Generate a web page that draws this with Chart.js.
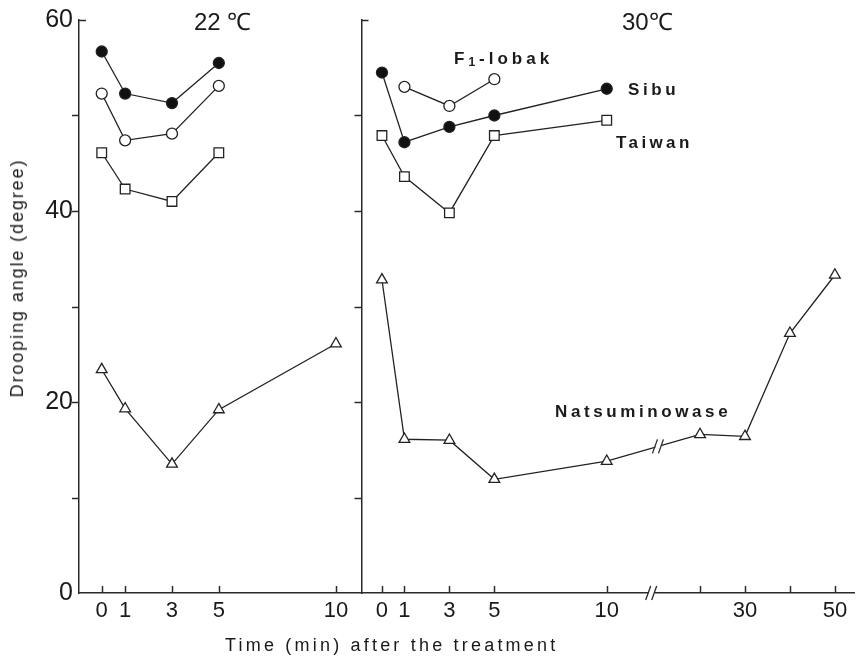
<!DOCTYPE html>
<html>
<head>
<meta charset="utf-8">
<script src="https://cdn.jsdelivr.net/npm/chart.js@4/dist/chart.umd.min.js"></script>
<style>
  html, body { margin:0; padding:0; background:#fff; }
  #wrap { position:relative; width:863px; height:657px; background:#fff; overflow:hidden;
          font-family:"Liberation Sans", Arial, sans-serif; color:#1a1a1a; }
  canvas { position:absolute; left:0; top:0; }
  .t { position:absolute; white-space:nowrap; line-height:1; }
  .lab { font-weight:bold; font-size:17px; letter-spacing:3.4px; }
</style>
</head>
<body>
<div id="wrap">
  <canvas id="c1" width="863" height="657"></canvas>
  <canvas id="c2" width="863" height="657"></canvas>
  <div class="t" style="left:194px;top:10px;font-size:24px;">22 ℃</div>
  <div class="t" style="left:622px;top:10px;font-size:24px;">30℃</div>
  <div class="t lab" style="left:454px;top:50px;letter-spacing:4px;">F<sub style="font-size:12px;vertical-align:-2px;">1</sub>-lobak</div>
  <div class="t lab" style="left:628px;top:81px;letter-spacing:3.6px;">Sibu</div>
  <div class="t lab" style="left:616px;top:134px;letter-spacing:3.4px;">Taiwan</div>
  <div class="t lab" style="left:555px;top:403px;letter-spacing:3.6px;">Natsuminowase</div>
  <div class="t" style="left:225px;top:636px;font-size:18px;letter-spacing:3.2px;">Time (min) after the treatment</div>
  <div class="t" style="left:17px;top:278px;font-size:18px;letter-spacing:1.9px;transform:translate(-50%,-50%) rotate(-90deg);">Drooping angle (degree)</div>
</div>
<script>
// ---------- data ----------
const timesLeft = [0, 1, 3, 5, 10];
const labelsLeft = ['0', '1', '3', '5', '10'];
const sibu22   = [56.7, 52.3, 51.3, 55.5];
const lobak22  = [52.3, 47.4, 48.1, 53.1];
const taiwan22 = [46.1, 42.3, 41.0, 46.1];
const natsu22  = [23.4, 19.3, 13.5, 19.2, 26.1];

const timesRight  = [0, 1, 3, 5, 10, 20, 30, 40, 50];
const labelsRight = ['0', '1', '3', '5', '10', '', '30', '', '50'];
const sibu30Times   = [0, 1, 3, 5, 10];
const sibu30        = [54.5, 47.2, 48.8, 50.0, 52.8];
const lobak30Times  = [1, 3, 5];
const lobak30       = [53.0, 51.0, 53.8];
const taiwan30Times = [0, 1, 3, 5, 10];
const taiwan30      = [47.9, 43.6, 39.8, 47.9, 49.5];
const natsu30Times  = [0, 1, 3, 5, 10, 20, 30, 40, 50];
const natsu30       = [32.8, 16.1, 16.0, 11.9, 13.8, 16.6, 16.4, 27.2, 33.3];

const yTicks = [0, 10, 20, 30, 40, 50, 60];

// ---------- broken time axis (right panel) ----------
const BREAK_AT = 10, RESUME_AT = 20, GAP = 4.15, COMPRESS = 0.2;
function mapT(t) { return t <= BREAK_AT ? t : BREAK_AT + GAP + (t - RESUME_AT) * COMPRESS; }

const INK = '#222';
function pts(times, vals, f) { return vals.map((v, i) => ({ x: f ? f(times[i]) : times[i], y: v })); }
function ds(data, style) {
  const base = { data, borderColor: INK, borderWidth: 1.3, tension: 0,
    pointBorderColor: INK, pointBorderWidth: 1.3, pointHoverRadius: 0, fill: false };
  if (style === 'filled') return Object.assign(base, { pointStyle: 'circle', pointRadius: 5.5, pointBackgroundColor: '#111' });
  if (style === 'open')   return Object.assign(base, { pointStyle: 'circle', pointRadius: 5.5, pointBackgroundColor: '#fff' });
  if (style === 'square') return Object.assign(base, { pointStyle: 'rect', pointRadius: 6.8, pointBackgroundColor: '#fff' });
  return Object.assign(base, { pointStyle: 'triangle', pointRadius: 6.2, pointBackgroundColor: '#fff' });
}

const tickPlugin = {
  id: 'customTicks',
  afterDraw(chart, args, opts) {
    const ctx = chart.ctx, xs = chart.scales.x, ys = chart.scales.y, ca = chart.chartArea;
    ctx.save();
    ctx.strokeStyle = '#2a2a2a'; ctx.lineWidth = 1.5; ctx.lineCap = 'butt';
    yTicks.forEach(v => {
      if (v === 0) return;
      const py = Math.round(ys.getPixelForValue(v)) + 0.5;
      ctx.beginPath();
      if (v === 60) { ctx.moveTo(ca.left, py); ctx.lineTo(ca.left + 7, py); }
      else { ctx.moveTo(ca.left - 7, py); ctx.lineTo(ca.left, py); }
      ctx.stroke();
    });
    xs.ticks.forEach(t => {
      const px = Math.round(xs.getPixelForValue(t.value)) + 0.5;
      ctx.beginPath(); ctx.moveTo(px, ca.bottom); ctx.lineTo(px, ca.bottom - 7); ctx.stroke();
    });
    if (opts && opts.breakAt !== undefined) {
      const drawBreak = (px, py) => {
        ctx.fillStyle = '#fff';
        ctx.fillRect(px - 3, py - 2.5, 6, 5);
        ctx.strokeStyle = '#2a2a2a'; ctx.lineWidth = 1.3;
        ctx.beginPath();
        ctx.moveTo(px - 6, py + 7); ctx.lineTo(px - 1, py - 7);
        ctx.moveTo(px + 0, py + 7); ctx.lineTo(px + 5, py - 7);
        ctx.stroke();
      };
      drawBreak(xs.getPixelForValue(opts.breakAt), ca.bottom);
      const meta = chart.getDatasetMeta(opts.lineIndex);
      const i0 = natsu30Times.indexOf(BREAK_AT), i1 = natsu30Times.indexOf(RESUME_AT);
      const p0 = meta.data[i0], p1 = meta.data[i1];
      const bx = xs.getPixelForValue(opts.lineBreakAt);
      const f = (bx - p0.x) / (p1.x - p0.x);
      drawBreak(bx, p0.y + f * (p1.y - p0.y));
    }
    ctx.restore();
  }
};

const yScale = (showLabels) => ({
  type: 'linear', min: 0, max: 60,
  afterBuildTicks: s => { s.ticks = yTicks.map(v => ({ value: v })); },
  afterFit: s => { s.width = showLabels ? 79 : 361.5; },
  grid: { display: false },
  border: { display: true, color: '#2a2a2a', width: 1.5 },
  ticks: { display: showLabels, padding: -2, color: '#1a1a1a',
    font: { family: '"Liberation Sans", Arial, sans-serif', size: 25 },
    callback: v => (v % 20 === 0 ? String(v) : '') }
});

const xFont = { family: '"Liberation Sans", Arial, sans-serif', size: 22 };

new Chart(document.getElementById('c1'), {
  type: 'line',
  data: { datasets: [
    ds(pts(timesLeft, sibu22), 'filled'),
    ds(pts(timesLeft, lobak22), 'open'),
    ds(pts(timesLeft, taiwan22), 'square'),
    ds(pts(timesLeft, natsu22), 'triangle')
  ] },
  options: {
    responsive: false, animation: false, devicePixelRatio: 1,
    layout: { padding: { left: 0, top: 20, right: 863 - 361, bottom: 0 } },
    plugins: { legend: { display: false }, tooltip: { enabled: false }, customTicks: {} },
    scales: {
      x: { type: 'linear', min: -0.97, max: 11.07,
        afterBuildTicks: s => { s.ticks = timesLeft.map(v => ({ value: v })); },
        afterFit: s => { s.height = 64; },
        grid: { display: false },
        border: { display: true, color: '#2a2a2a', width: 1.5 },
        ticks: { autoSkip: false, maxRotation: 0, padding: -3, color: '#1a1a1a', font: xFont,
          callback: (v, i) => labelsLeft[i] } },
      y: yScale(true)
    }
  },
  plugins: [tickPlugin]
});

new Chart(document.getElementById('c2'), {
  type: 'line',
  data: { datasets: [
    ds(pts(sibu30Times, sibu30, mapT), 'filled'),
    ds(pts(lobak30Times, lobak30, mapT), 'open'),
    ds(pts(taiwan30Times, taiwan30, mapT), 'square'),
    ds(pts(natsu30Times, natsu30, mapT), 'triangle')
  ] },
  options: {
    responsive: false, animation: false, devicePixelRatio: 1,
    layout: { padding: { left: 0, top: 20, right: 0, bottom: 0 } },
    plugins: { legend: { display: false }, tooltip: { enabled: false },
      customTicks: { breakAt: 12.0, lineBreakAt: 12.3, lineIndex: 3 } },
    scales: {
      x: { type: 'linear', min: -0.91, max: 21.04,
        afterBuildTicks: s => { s.ticks = timesRight.map(t => ({ value: mapT(t) })); },
        afterFit: s => { s.height = 64; },
        grid: { display: false },
        border: { display: true, color: '#2a2a2a', width: 1.5 },
        ticks: { autoSkip: false, maxRotation: 0, padding: -3, color: '#1a1a1a', font: xFont,
          callback: (v, i) => labelsRight[i] } },
      y: yScale(false)
    }
  },
  plugins: [tickPlugin]
});
</script>
</body>
</html>
